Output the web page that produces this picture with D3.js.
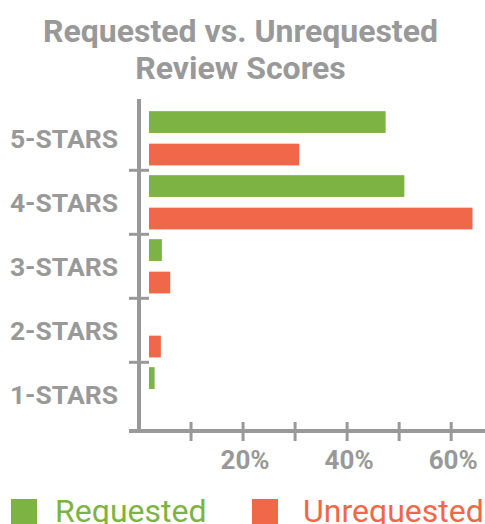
<!DOCTYPE html>
<html>
<head>
<meta charset="utf-8">
<script src="https://cdn.jsdelivr.net/npm/d3@7"></script>
<style>
  body { margin: 0; background: #fff; }
  text { font-family: Roboto, "Noto Sans", sans-serif; }
</style>
</head>
<body>
<script>
const categories = ["5-STARS", "4-STARS", "3-STARS", "2-STARS", "1-STARS"];
const seriesNames = ["Requested", "Unrequested"];
const requested = [0.474, 0.51, 0.044, 0, 0.03];
const unrequested = [0.308, 0.641, 0.06, 0.042, 0];
const tickValues = [0.1, 0.2, 0.3, 0.4, 0.5, 0.6];
const tickLabels = ["", "20%", "", "40%", "", "60%"];

const colors = ["#7db343", "#f0674a"];
const grey = "#999999";

var width = 485, height = 524;

var svg = d3.select("body").append("svg")
    .attr("width", width)
    .attr("height", height);

var x = d3.scaleLinear()
    .domain([0, 0.665])
    .range([139, 485]);

var y = d3.scaleBand()
    .domain(categories)
    .range([106.3, 426.3]);

var inner = d3.scaleBand()
    .domain(seriesNames)
    .range([0, y.bandwidth()])
    .paddingInner(0.33)
    .paddingOuter(0.15);

var axisY = 431;
var barGap = 10;

// title
svg.append("text")
    .attr("x", 240.5)
    .attr("y", 41.5)
    .attr("text-anchor", "middle")
    .attr("font-size", "32px")
    .attr("font-weight", "bold")
    .attr("fill", grey)
    .text("Requested vs. Unrequested");

svg.append("text")
    .attr("x", 240.5)
    .attr("y", 79)
    .attr("text-anchor", "middle")
    .attr("font-size", "32px")
    .attr("font-weight", "bold")
    .attr("fill", grey)
    .text("Review Scores");

// bars
var rows = categories.map(function (c, i) {
    return [
        { cat: c, series: seriesNames[0], value: requested[i] },
        { cat: c, series: seriesNames[1], value: unrequested[i] }
    ];
});

var groups = svg.selectAll(".row")
    .data(rows)
    .enter()
    .append("g")
    .attr("class", "row")
    .attr("transform", function (d) { return "translate(0," + y(d[0].cat) + ")"; });

groups.selectAll("rect")
    .data(function (d) { return d.filter(function (e) { return e.value > 0; }); })
    .enter()
    .append("rect")
    .attr("x", x(0) + barGap)
    .attr("y", function (d) { return inner(d.series); })
    .attr("width", function (d) { return Math.max(0, x(d.value) - x(0) - barGap); })
    .attr("height", inner.bandwidth())
    .attr("fill", function (d) { return colors[seriesNames.indexOf(d.series)]; });

// y axis
svg.append("line")
    .attr("x1", x(0)).attr("x2", x(0))
    .attr("y1", 99).attr("y2", axisY + 2)
    .attr("stroke", grey)
    .attr("stroke-width", 4);

svg.selectAll(".ytick")
    .data(categories.slice(1))
    .enter()
    .append("line")
    .attr("class", "ytick")
    .attr("x1", x(0) - 10).attr("x2", x(0) + 10)
    .attr("y1", function (d) { return y(d); })
    .attr("y2", function (d) { return y(d); })
    .attr("stroke", grey)
    .attr("stroke-width", 3);

svg.selectAll(".ylabel")
    .data(categories)
    .enter()
    .append("text")
    .attr("class", "ylabel")
    .attr("x", 118)
    .attr("y", function (d) { return y(d) + y.bandwidth() / 2; })
    .attr("dy", "0.35em")
    .attr("text-anchor", "end")
    .attr("font-size", "26.5px")
    .attr("font-weight", "bold")
    .attr("fill", grey)
    .text(function (d) { return d; });

// x axis
svg.append("line")
    .attr("x1", x(0) - 10).attr("x2", width)
    .attr("y1", axisY).attr("y2", axisY)
    .attr("stroke", grey)
    .attr("stroke-width", 4);

svg.selectAll(".xtick")
    .data(tickValues)
    .enter()
    .append("line")
    .attr("class", "xtick")
    .attr("x1", function (d) { return x(d); })
    .attr("x2", function (d) { return x(d); })
    .attr("y1", axisY - 9).attr("y2", axisY + 10)
    .attr("stroke", grey)
    .attr("stroke-width", 3);

svg.selectAll(".xlabel")
    .data(tickValues)
    .enter()
    .append("text")
    .attr("class", "xlabel")
    .attr("x", function (d) { return x(d) + 2; })
    .attr("y", 469)
    .attr("text-anchor", "middle")
    .attr("font-size", "26px")
    .attr("font-weight", "bold")
    .attr("fill", grey)
    .text(function (d, i) { return tickLabels[i]; });

// legend
var legendX = [11, 252];
var legendTextX = [44, 51];
var legend = svg.selectAll(".legend")
    .data(seriesNames)
    .enter()
    .append("g")
    .attr("class", "legend")
    .attr("transform", function (d, i) { return "translate(" + legendX[i] + ",499)"; });

legend.append("rect")
    .attr("width", 26)
    .attr("height", 26)
    .attr("fill", function (d, i) { return colors[i]; });

legend.append("text")
    .attr("x", function (d, i) { return legendTextX[i]; })
    .attr("y", 22.5)
    .attr("font-size", "32px")
    .attr("fill", function (d, i) { return colors[i]; })
    .text(function (d) { return d; });
</script>
</body>
</html>
